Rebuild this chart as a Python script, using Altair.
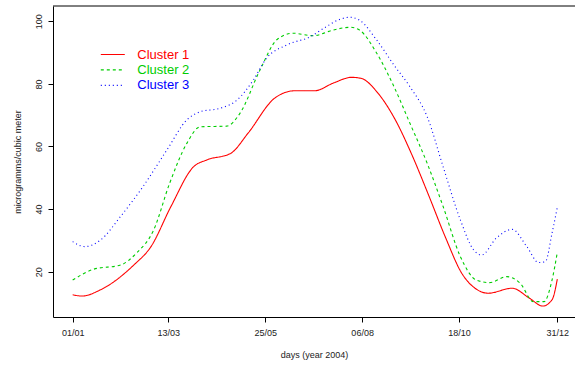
import altair as alt
import pandas as pd

# ---- data ----
days1 = [1, 8, 22, 47, 60, 75, 92, 102, 120, 133, 153, 168, 183, 198, 211, 218, 231, 244, 256, 269, 282, 294, 304, 314, 332, 345, 355, 362, 366]
vals1 = [12.6, 12.2, 14.2, 22.1, 28.0, 40.8, 53.5, 55.7, 57.8, 64.2, 75.4, 77.8, 77.8, 80.4, 82.1, 81.8, 77.0, 68.5, 57.8, 44.5, 30.7, 19.5, 14.7, 13.1, 14.7, 11.5, 9.0, 11.0, 17.6]

days2 = [1, 17, 37, 49, 62, 74, 87, 97, 117, 127, 142, 155, 167, 182, 197, 210, 217, 230, 243, 255, 268, 280, 293, 305, 315, 328, 338, 348, 356, 362, 366]
vals2 = [17.3, 20.8, 22.1, 25.9, 33.3, 48.2, 61.0, 66.3, 66.5, 70.6, 84.4, 94.2, 96.2, 95.4, 97.2, 98.1, 97.2, 89.8, 79.1, 67.4, 54.6, 40.8, 24.8, 17.3, 16.5, 18.4, 16.3, 10.4, 10.4, 17.3, 26.2]

days3 = [1, 10, 22, 37, 54, 72, 87, 97, 112, 125, 137, 147, 162, 180, 192, 202, 210, 217, 230, 243, 255, 268, 280, 293, 303, 309, 320, 332, 343, 352, 357, 362, 366]
vals3 = [29.6, 28.0, 30.1, 37.6, 47.2, 58.9, 68.5, 71.1, 72.2, 74.9, 81.2, 88.2, 92.4, 95.1, 98.3, 100.6, 101.3, 100.4, 94.0, 86.0, 79.1, 69.5, 53.5, 36.5, 26.9, 25.3, 30.7, 33.5, 28.0, 22.9, 23.2, 32.3, 40.6]

series_names = ["Cluster 1", "Cluster 2", "Cluster 3"]
series_colors = ["#FF0000", "#00CD00", "#0000FF"]
series_dash = [[1, 0], [3, 3], [1, 3]]

tick_days = [1, 73, 146, 219, 292, 366]
tick_labels = ["01/01", "13/03", "25/05", "06/08", "18/10", "31/12"]
y_ticks = [20, 40, 60, 80, 100]

x_domain = [-13.8, 379.3]
y_domain = [5.5, 104.9]

rows = []
for name, ds, vs in zip(series_names, [days1, days2, days3], [vals1, vals2, vals3]):
    for d, v in zip(ds, vs):
        rows.append({"day": d, "value": v, "cluster": name})
df = pd.DataFrame(rows)

label_expr = "''"
for d, l in reversed(list(zip(tick_days, tick_labels))):
    label_expr = f"datum.value == {d} ? '{l}' : ({label_expr})"

color_expr = "'#000000'"
for n, c in reversed(list(zip(series_names, series_colors))):
    color_expr = f"datum.value == '{n}' ? '{c}' : ({color_expr})"

FONT = "Liberation Sans"

legend_kw = dict(title=None, orient="none", legendX=53.3, legendY=42,
                 symbolType="M-3,0H3", symbolSize=64, symbolStrokeWidth=1.2,
                 symbolFillColor="transparent",
                 labelFontSize=13, labelFont=FONT, labelOffset=18,
                 rowPadding=1.4, padding=0, labelColor=alt.ExprRef(expr=color_expr))

lines = alt.Chart(df).mark_line(interpolate="monotone", strokeWidth=1.1).encode(
    x=alt.X("day:Q", scale=alt.Scale(domain=x_domain, nice=False, zero=False),
            axis=alt.Axis(values=tick_days, labelExpr=label_expr, title="days (year 2004)",
                          grid=False, tickSize=5, labelPadding=6, titlePadding=13,
                          labelFlush=False, labelOverlap=False)),
    y=alt.Y("value:Q", scale=alt.Scale(domain=y_domain, nice=False, zero=False),
            axis=alt.Axis(values=y_ticks, title="microgramms/cubic meter", grid=False,
                          tickSize=5, labelAngle=270, labelAlign="center",
                          labelBaseline="bottom", labelPadding=5, titlePadding=12,
                          labelFlush=False, labelOverlap=False)),
    color=alt.Color("cluster:N", scale=alt.Scale(domain=series_names, range=series_colors),
                    legend=alt.Legend(**legend_kw)),
    strokeDash=alt.StrokeDash("cluster:N", scale=alt.Scale(domain=series_names, range=series_dash),
                              legend=alt.Legend(**legend_kw)),
)

top_frame = alt.Chart(pd.DataFrame({"top": [y_domain[1]]})).mark_rule(color="black", strokeWidth=1).encode(
    y=alt.Y("top:Q")
)

chart = alt.layer(lines, top_frame).properties(
    width=522, height=311,
    autosize=alt.AutoSizeParams(type="none"),
    padding={"left": 53, "top": 6, "right": 0, "bottom": 48},
    background="white",
).configure_view(stroke=None).configure_axis(
    domainColor="black", tickColor="black", labelColor="#222", titleColor="#222",
    labelFont=FONT, titleFont=FONT, labelFontSize=9, titleFontSize=9,
    titleFontWeight="normal", domainWidth=1, tickWidth=1,
)

chart.save("out.html", embed_options={"renderer": "svg", "actions": False})
